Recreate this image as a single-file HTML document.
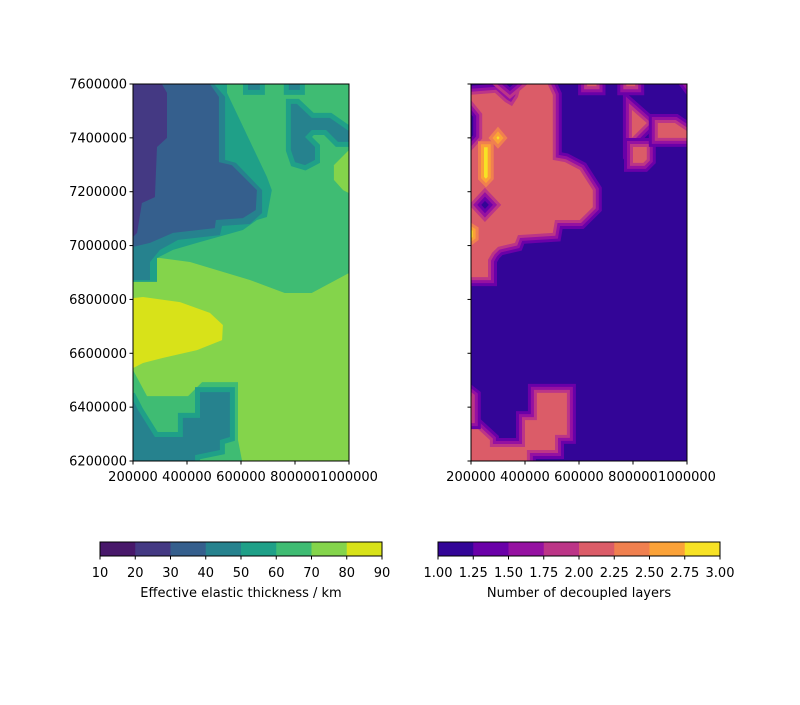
<!DOCTYPE html>
<html><head><meta charset="utf-8"><style>
body{margin:0;background:#fff;}
svg text{font-family:"DejaVu Sans","Liberation Sans",sans-serif;font-size:13px;fill:#000;}
</style></head><body>
<svg id="fig" width="800" height="700" viewBox="0 0 800 700" xmlns="http://www.w3.org/2000/svg">
<defs>
<clipPath id="clipL"><rect x="133" y="84" width="216" height="377"/></clipPath>
<clipPath id="clipR"><rect x="471" y="84" width="216" height="377"/></clipPath>
</defs>
<g id="left" clip-path="url(#clipL)"></g>
<g id="right" clip-path="url(#clipR)"></g>
<g id="axes"></g>
</svg>
<script>
const xTicks=[200000,400000,600000,800000,1000000];
const yTicks=[6200000,6400000,6600000,6800000,7000000,7200000,7400000,7600000];
const etLevels=[10,20,30,40,50,60,70,80,90];
const etColors=['#48186a','#443983','#355f8d','#26828e','#1fa088','#3fbc73','#84d44b','#d8e219'];
const ndLevels=['1.00','1.25','1.50','1.75','2.00','2.25','2.50','2.75','3.00'];
const ndColors=['#330597','#6a00a8','#9511a1','#bc3587','#db5c68','#f0804f','#fba238','#f7e225'];
// contour regions, coordinates in km (x, northing)
const etTop60=[[200,7600],[1000,7600],[1000,6898],[862,6824],[762,6824],[633,6872],[411,6939],[300,6954],[200,6954]];
const et50=[[200,7600],[548,7600],[548,7567],[696,7255],[714,7206],[696,7106],[659,7095],[607,7058],[437,7010],[348,6984],[289,6954],[289,6865],[200,6865]];
const et40=[[200,7600],[500,7600],[541,7552],[541,7318],[581,7307],[678,7206],[678,7121],[633,7080],[530,7073],[522,7039],[367,7021],[300,6984],[263,6939],[263,6872],[200,6872]];
const et30=[[200,7600],[485,7600],[518,7552],[518,7310],[566,7299],[659,7206],[655,7132],[607,7102],[507,7095],[503,7065],[348,7047],[263,7010],[200,6995]];
const et20=[[200,7600],[307,7600],[326,7567],[326,7400],[289,7366],[281,7180],[233,7158],[215,7047],[200,7032]];
const etIsl1=[[626,7620],[670,7620],[670,7578],[626,7578]];
const etIsl2=[[777,7620],[818,7620],[818,7578],[777,7578]];
const etIsl3=[[785,7526],[807,7526],[862,7474],[929,7474],[1010,7418],[1010,7385],[959,7385],[915,7429],[862,7429],[837,7403],[874,7366],[874,7318],[837,7299],[800,7310],[785,7355]];
const et70patch=[[1000,7355],[944,7299],[944,7244],[978,7206],[1000,7195]];
const et80=[[200,6805],[237,6809],[374,6790],[485,6750],[533,6705],[530,6649],[437,6612],[311,6583],[237,6564],[200,6545]];
const etBot60=[[200,6538],[252,6441],[404,6441],[456,6493],[589,6493],[589,6278],[604,6200],[200,6200]];
const etBot40=[[190,6445],[219,6389],[281,6289],[385,6289],[385,6360],[448,6360],[448,6456],[559,6456],[559,6289],[522,6278],[522,6241],[430,6222],[430,6190],[190,6190]];
const nd2Main=[[190,7559],[289,7567],[326,7533],[352,7518],[374,7552],[392,7620],[474,7620],[503,7559],[503,7318],[548,7310],[603,7281],[651,7206],[651,7143],[603,7095],[511,7095],[503,7047],[374,7039],[363,7010],[300,6995],[278,6973],[263,6947],[263,6883],[190,6883]];
const nd2Bottom=[[190,6352],[270,6278],[270,6252],[400,6252],[400,6352],[444,6352],[444,6453],[555,6453],[555,6297],[511,6297],[511,6241],[407,6241],[407,6190],[190,6190]];
const nd2Strip=[[190,6450],[203,6440],[203,6352],[190,6352]];
const nd2T1=[[796,7504],[851,7455],[796,7400]];
const nd2T2=[[800,7366],[851,7366],[851,7320],[838,7307],[800,7307]];
const nd2T3=[[892,7455],[955,7455],[1010,7418],[1010,7400],[892,7400]];
const nd2Top1=[[630,7620],[665,7620],[665,7592],[630,7592]];
const nd2Top2=[[775,7620],[808,7620],[808,7592],[775,7592]];
const nd2Top3=[[995,7620],[1010,7620],[1010,7600]];
const nd1Diamond=[[238,7151],[252,7166],[266,7151],[252,7136]];
const nd1Notch=[[330,7600],[344,7588],[358,7600],[344,7612]];
const nd1Bulge=[[190,7500],[208,7478],[208,7410],[190,7390]];
const nd3Bar=[[248,7365],[262,7365],[262,7255],[255,7248],[248,7255]];
const nd3Diamond=[[294,7400],[300,7407],[306,7400],[300,7393]];
const nd3Edge=[[190,7065],[206,7055],[206,7032],[190,7020]];

const NS='http://www.w3.org/2000/svg';
function xL(v){return 133+(v-200)/800*216;}
function xR(v){return 471+(v-200)/800*216;}
function yS(v){return 461-(v-6200)/1400*377;}
function poly(g,pts,fx,fill,strokes,name,bw){
  bw=bw||3;
  const s=pts.map(p=>fx(p[0]).toFixed(1)+','+yS(p[1]).toFixed(1)).join(' ');
  const n=strokes.length;
  strokes.forEach((c,i)=>{
    const e=document.createElementNS(NS,'polygon');
    e.setAttribute('points',s);e.setAttribute('fill',c);e.setAttribute('stroke',c);
    e.setAttribute('stroke-width',(n-i)*bw*2);e.setAttribute('stroke-linejoin','miter');
    
    
    g.appendChild(e);
  });
  const e=document.createElementNS(NS,'polygon');
  e.setAttribute('points',s);e.setAttribute('fill',fill);
  
  
  g.appendChild(e);
}
const L=document.getElementById('left'),R=document.getElementById('right');
function bg(g,x,c,name){const r=document.createElementNS(NS,'rect');r.setAttribute('x',x);r.setAttribute('y',84);r.setAttribute('width',216);r.setAttribute('height',377);r.setAttribute('fill',c);


g.appendChild(r);}
const C=etColors;
bg(L,133,C[6],'level-70-80');
poly(L,etTop60,xL,C[5],[],'level-60-70');
poly(L,et70patch,xL,C[6],[],'level-70-80-patch');
poly(L,et50,xL,C[4],[],'level-50-60');
poly(L,et40,xL,C[3],[],'level-40-50');
poly(L,et30,xL,C[2],[],'level-30-40');
poly(L,et20,xL,C[1],[],'level-20-30');
poly(L,etIsl1,xL,C[3],[C[4]],'island-40-50',5);
poly(L,etIsl2,xL,C[3],[C[4]],'island-40-50',5);
poly(L,etIsl3,xL,C[3],[C[4]],'island-40-50',5);
poly(L,et80,xL,C[7],[],'level-80-90');
poly(L,etBot60,xL,C[5],[],'level-60-70-south');
poly(L,etBot40,xL,C[3],[C[4]],'level-40-50-south',5);
const D=ndColors;
bg(R,471,D[0],'level-1');
const band2=[D[1],D[2],D[3]];
[nd2Main,nd2Bottom,nd2Strip,nd2T1,nd2T2,nd2T3,nd2Top1,nd2Top2,nd2Top3].forEach(p=>poly(R,p,xR,D[4],band2,'level-2-region'));
const band1=[D[3],D[2],D[1]];
[nd1Diamond,nd1Notch,nd1Bulge].forEach(p=>poly(R,p,xR,D[0],band1,'level-1-pocket'));
const band3=[D[5],D[6]];
[nd3Bar,nd3Diamond,nd3Edge].forEach(p=>poly(R,p,xR,D[7],band3,'level-3-peak'));

const A=document.getElementById('axes');
function el(tag,attrs,name,text){const e=document.createElementNS(NS,tag);for(const k in attrs)e.setAttribute(k,attrs[k]);


if(text!==undefined)e.textContent=text;A.appendChild(e);return e;}
[[133,true],[471,false]].forEach(([x0,lab])=>{
  el('rect',{x:x0,y:84,width:216,height:377,fill:'none',stroke:'#000','stroke-width':1},'axes-frame');
  xTicks.forEach(t=>{const x=x0+(t-200000)/800000*216;
    el('line',{x1:x,x2:x,y1:461,y2:464.5,stroke:'#000'},'x-tick');
    el('text',{x:x,y:481,'text-anchor':'middle'},'x-tick-label',String(t));});
  yTicks.forEach(t=>{const y=461-(t-6200000)/1400000*377;
    el('line',{x1:x0-3.5,x2:x0,y1:y,y2:y,stroke:'#000'},'y-tick');
    if(lab)el('text',{x:x0-6,y:y+4.5,'text-anchor':'end'},'y-tick-label',String(t));});
});
function cbar(x0,cols,labels,title,name){
  const w=282/cols.length;
  cols.forEach((c,i)=>el('rect',{x:x0+i*w,y:542,width:w+0.3,height:14,fill:c},name+'-swatch'));
  el('rect',{x:x0,y:542,width:282,height:14,fill:'none',stroke:'#000'},name+'-frame');
  labels.forEach((l,i)=>{const x=x0+i*w;
    el('line',{x1:x,x2:x,y1:556,y2:559.5,stroke:'#000'},name+'-tick');
    el('text',{x:x,y:577,'text-anchor':'middle'},name+'-tick-label',String(l));});
  el('text',{x:x0+141,y:597,'text-anchor':'middle'},name+'-title',title);
}
cbar(100,etColors,etLevels,'Effective elastic thickness / km','thickness-colorbar');
cbar(438,ndColors,ndLevels,'Number of decoupled layers','layers-colorbar');
</script>
</body></html>
